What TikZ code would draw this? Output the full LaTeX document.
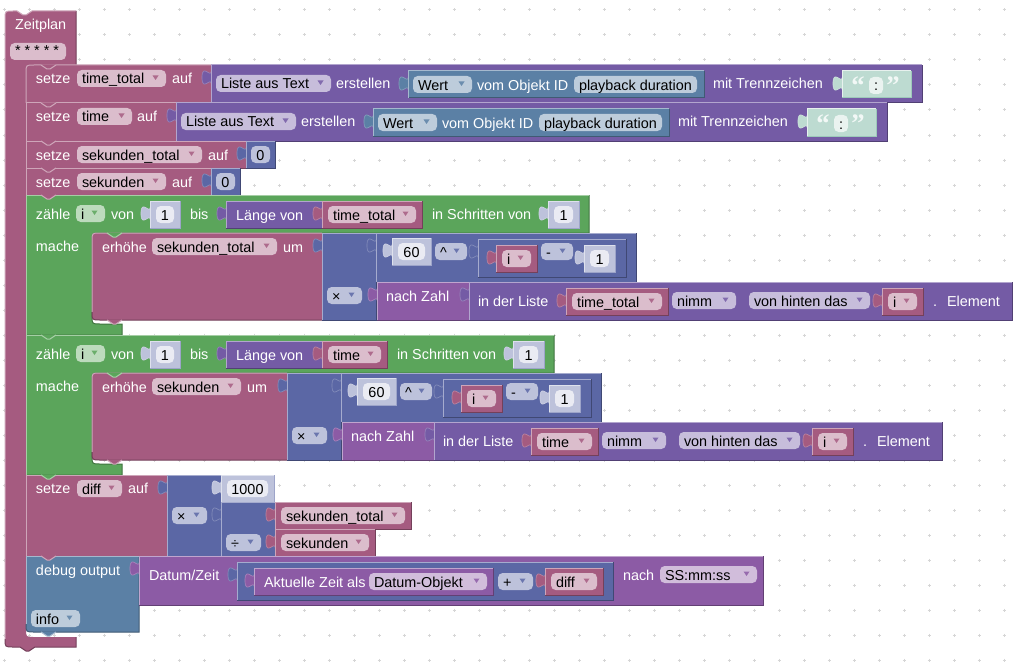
\documentclass[tikz,border=0pt]{standalone}
\usepackage{fontspec}
\setmainfont{Liberation Sans}
\newfontfamily\quotefont{Liberation Serif}[BoldFont={Liberation Serif Bold}]
\definecolor{vr}{HTML}{A55B80}
\definecolor{lst}{HTML}{745BA5}
\definecolor{mth}{HTML}{5B67A5}
\definecolor{grn}{HTML}{5BA55B}
\definecolor{sys}{HTML}{5B80A5}
\definecolor{dat}{HTML}{8C5BA5}
\definecolor{txt}{HTML}{5BA58C}
\definecolor{gridc}{HTML}{D6D6D6}
\tikzset{
  lab/.style={anchor=base west,inner sep=0pt,outer sep=0pt,text=white,font=\fontsize{10.8}{12}\selectfont},
  fldtxt/.style={anchor=base west,inner sep=0pt,outer sep=0pt,text=black,font=\fontsize{10.8}{12}\selectfont},
  midtxt/.style={anchor=base,inner sep=0pt,outer sep=0pt,text=black,font=\fontsize{10.8}{12}\selectfont},
  qmark/.style={anchor=base,inner sep=0pt,outer sep=0pt,text=white!92!txt,font=\quotefont\bfseries\fontsize{20}{20}\selectfont},
  fieldbox/.style={rounded corners=3.5}
}
% bevelled block
\newcommand{\blk}[5]{%
  \fill[#5] (#1,#2) rectangle (#3,#4);
  \draw[#5!70!black] (#1,#4)--(#3,#4)--(#3,#2);
  \draw[#5!55!white] (#1,#4)--(#1,#2)--(#3,#2);}
% puzzle tab on left edge, #2 = block top
\newcommand{\ptab}[3]{%
  \fill[#3,draw=#3!75!white,line width=.5pt] (#1+.5,#2+5) .. controls (#1+.5,#2+15) and (#1-9,#2-3) .. (#1-9,#2+12.5)
     .. controls (#1-9,#2+28) and (#1+.5,#2+10) .. (#1+.5,#2+20);}
% value block = tab + block
\newcommand{\vblk}[5]{\ptab{#1}{#2}{#5}\blk{#1}{#2}{#3}{#4}{#5}}
% dropdown field: x1,y1,x2,text,colour
\newcommand{\ddf}[5]{%
  \fill[#5!40!white,fieldbox] (#1,#2) rectangle (#3,#2+17);
  \node[fldtxt] at (#1+5,#2+14) {#4};
  \fill[#5!90!white] (#3-13.5,#2+5.5) -- (#3-7.5,#2+5.5) -- (#3-10.5,#2+10) -- cycle;}
% variable block
\newcommand{\varb}[4]{%
  \vblk{#1}{#2}{#3}{#2+27}{vr}
  \ddf{#1+6}{#2+5}{#3-6}{#4}{vr}}
% plain field with centred text: x1,y1,x2,text,fill
\newcommand{\cfld}[5]{%
  \fill[#5,fieldbox] (#1,#2) rectangle (#3,#2+17);
  \node[midtxt] at ({(#1+#3)/2},#2+14) {#4};}
% shadow number block
\newcommand{\shad}[4]{%
  \ptab{#1}{#2}{mth!40!white}
  \fill[mth!40!white] (#1,#2) rectangle (#3,#2+27);
  \draw[mth!20!white] (#1,#2+27)--(#1,#2)--(#3,#2);
  \draw[mth!60!white] (#1,#2+27)--(#3,#2+27)--(#3,#2);
  \cfld{#1+6}{#2+5}{#3-6}{#4}{mth!13!white}}
% real number block
\newcommand{\numb}[4]{%
  \vblk{#1}{#2}{#3}{#2+27}{mth}
  \cfld{#1+5}{#2+5}{#3-5}{#4}{mth!40!white}}
% next-statement connector
\newcommand{\conn}[3]{%
  \fill[#3] (#1+15,#2-.5) -- (#1+21,#2+4) -- (#1+24,#2+4) -- (#1+30,#2-.5) -- cycle;
  \draw[#3!55!white] (#1+15,#2) -- (#1+21,#2+4) -- (#1+24,#2+4) -- (#1+30,#2);}
% "Liste aus Text" row, drawn at first-row position
\newcommand{\listrow}{%
  \blk{211}{65}{922}{103}{lst}
  \ddf{216}{75}{331}{Liste aus Text}{lst}
  \node[lab] at (336,89) {erstellen};
  \vblk{408}{71}{704}{98}{sys}
  \ddf{413}{76}{472}{Wert}{sys}
  \node[lab] at (477,90) {vom Objekt ID};
  \fill[sys!40!white,fieldbox] (574,76) rectangle (697,93);
  \node[fldtxt] at (579,90) {playback duration};
  \node[lab] at (713,89) {mit Trennzeichen};
  \ptab{842}{71}{txt!40!white}
  \fill[txt!40!white] (842,71) rectangle (911,98);
  \draw[txt!15!white] (842,98)--(842,71)--(911,71);
  \draw[txt!60!white] (842,98)--(911,98)--(911,71);
  \node[qmark] at (858,94.5) {“};
  \node[qmark] at (893,94.5) {”};
  \cfld{869}{77}{883}{:}{txt!13!white}}
% math stack and "nach Zahl", drawn at loop-1 position
\newcommand{\mathstack}{%
  \vblk{322}{233}{376}{320}{mth}
  \vblk{376}{233}{636}{282}{mth}
  \shad{392}{238}{431}{60}
  \ddf{435}{243}{467}{\textasciicircum}{mth}
  \vblk{478}{239}{626}{277}{mth}
  \varb{496}{245}{537}{i}
  \ddf{541}{243}{573}{-}{mth}
  \shad{584}{245}{615}{1}
  \ddf{327}{287}{362}{×}{mth}
  \vblk{377}{282}{469}{320}{dat}
  \node[lab] at (386,301) {nach Zahl};}
% loop frame, drawn at loop-1 position; #1 right end
\newcommand{\loopframe}[1]{%
  \fill[grn] (26,195) -- (#1,195) -- (#1,233) -- (100,233) .. controls (92,233) .. (92,241)
    -- (92,316) .. controls (92,324) .. (100,324) -- (122,324) -- (122,335) -- (26,335) -- cycle;
  \draw[grn!70!black] (#1,195) -- (#1,233) -- (100,233) .. controls (92,233) .. (92,241)
    -- (92,316) .. controls (92,324) .. (100,324) -- (122,324) -- (122,335) -- (26,335);
  \draw[grn!55!white] (26,335) -- (26,195) -- (#1,195);
  \node[lab] at (36,219) {zähle};
  \ddf{76}{205}{105}{i}{grn}
  \node[lab] at (111,219) {von};
  \shad{150}{201}{180}{1}
  \node[lab] at (190,219) {bis};
  \vblk{226}{201}{322}{228}{lst}
  \node[lab] at (236,220) {Länge von};
  \node[lab] at (36,251) {mache};}
% statement body inside a loop; #1 right end
\newcommand{\innerstmt}[1]{%
  \fill[vr] (100,233) -- (#1,233) -- (#1,320) -- (100,320) .. controls (92,320) .. (92,312)
    -- (92,241) .. controls (92,233) .. (100,233) -- cycle;
  \draw[vr!55!white] (92,312) -- (92,241) .. controls (92,233) .. (100,233) -- (#1,233);
  \draw[vr!70!black] (92,312) .. controls (92,320) .. (100,320) -- (#1,320);
  \node[lab] at (102,252) {erhöhe};}
\begin{document}
\begin{tikzpicture}[x=0.75pt,y=-0.75pt,line width=0.75pt]
\useasboundingbox (0,0) rectangle (1025,667);
\fill[white] (0,0) rectangle (1025,667);
% workspace grid
\draw[gridc] \foreach \gx in {4,29,...,1025} {\foreach \gy in {10,35,...,660}
  {(\gx-1.5,\gy) -- (\gx+1.5,\gy) (\gx,\gy-1.5) -- (\gx,\gy+1.5)}};
% hat
\fill[vr] (5,19) .. controls (5,11) .. (13,11) -- (17,11) -- (23,15) -- (26,15) -- (32,11) -- (76,11)
  -- (76,65) -- (34,65) .. controls (26,65) .. (26,73) -- (26,629) .. controls (26,637) .. (34,637)
  -- (76,637) -- (76,647) -- (35,647) -- (29,651) -- (26,651) -- (20,647) -- (13,647)
  .. controls (5,647) .. (5,639) -- cycle;
\draw[vr!70!black] (76,11) -- (76,65) (76,637) -- (76,647) -- (35,647) -- (29,651) -- (26,651) -- (20,647) -- (13,647)
  .. controls (5,647) .. (5,639);
\draw[vr!55!white] (5,639) -- (5,19) .. controls (5,11) .. (13,11) -- (17,11) -- (23,15) -- (26,15) -- (32,11) -- (76,11);
\node[lab] at (15,30) {Zeitplan};
\fill[vr!40!white,fieldbox] (10,43) rectangle (66,60);
\node[fldtxt] at (15,56) {* * * * *};
% row 1
\fill[vr] (34,65) -- (211,65) -- (211,103) -- (26,103) -- (26,73) .. controls (26,65) .. (34,65) -- cycle;
\draw[vr!55!white] (26,103) -- (26,73) .. controls (26,65) .. (34,65) -- (211,65);
\draw[vr!70!black] (26,103) -- (211,103);
\node[lab] at (36,84) {setze};
\ddf{77}{70}{166}{time\_total}{vr}
\node[lab] at (172,84) {auf};
\ptab{211}{65}{lst}\listrow
% row 2
\blk{26}{103}{176}{141}{vr}
\node[lab] at (36,122) {setze};
\ddf{77}{108}{132}{time}{vr}
\node[lab] at (137,122) {auf};
\ptab{176}{103}{lst}
\begin{scope}[shift={(-35,38)}]\listrow\end{scope}
% row 3
\blk{26}{141}{246}{168}{vr}
\node[lab] at (36,160) {setze};
\ddf{77}{146}{202}{sekunden\_total}{vr}
\node[lab] at (208,160) {auf};
\numb{246}{141}{275}{0}
% row 4
\blk{26}{168}{211}{195}{vr}
\node[lab] at (36,187) {setze};
\ddf{77}{173}{166}{sekunden}{vr}
\node[lab] at (172,187) {auf};
\numb{211}{168}{240}{0}
% loop 1
\loopframe{589}
\varb{322}{201}{422}{time\_total}
\node[lab] at (432,219) {in Schritten von};
\shad{548}{201}{579}{1}
\innerstmt{322}
\ddf{152}{238}{277}{sekunden\_total}{vr}
\node[lab] at (283,252) {um};
\mathstack
\vblk{469}{282}{1012}{320}{lst}
\node[lab] at (478,306) {in der Liste};
\varb{566}{288}{668}{time\_total}
\ddf{672}{292}{736}{nimm}{lst}
\ddf{749}{292}{870}{von hinten das}{lst}
\varb{882}{288}{923}{i}
\node[lab] at (933,306) {.};
\node[lab] at (947,306) {Element};
% loop 2
\begin{scope}[shift={(0,140)}]
\loopframe{554}
\varb{322}{201}{387}{time}
\node[lab] at (397,219) {in Schritten von};
\shad{513}{201}{544}{1}
\innerstmt{287}
\ddf{152}{238}{241}{sekunden}{vr}
\node[lab] at (247,252) {um};
\end{scope}
\begin{scope}[shift={(-35,140)}]
\mathstack
\vblk{469}{282}{977}{320}{lst}
\node[lab] at (478,306) {in der Liste};
\varb{566}{288}{633}{time}
\ddf{637}{292}{701}{nimm}{lst}
\ddf{714}{292}{835}{von hinten das}{lst}
\varb{847}{288}{888}{i}
\node[lab] at (898,306) {.};
\node[lab] at (912,306) {Element};
\end{scope}
% diff
\blk{26}{475}{167}{556}{vr}
\node[lab] at (36,493) {setze};
\ddf{77}{480}{122}{diff}{vr}
\node[lab] at (128,493) {auf};
\vblk{167}{475}{221}{556}{mth}
\ddf{172}{507}{207}{×}{mth}
\shad{221}{475}{274}{1000}
\vblk{221}{502}{275}{556}{mth}
\ddf{226}{534}{261}{÷}{mth}
\varb{275}{502}{411}{sekunden\_total}
\varb{275}{529}{375}{sekunden}
% debug output
\fill[sys] (26,556) -- (139,556) -- (139,632) -- (34,632) .. controls (26,632) .. (26,624) -- cycle;
\draw[sys!70!black] (139,556) -- (139,632) -- (34,632) .. controls (26,632) .. (26,624);
\draw[sys!55!white] (26,624) -- (26,556) -- (139,556);
\node[lab] at (36,575) {debug output};
\ddf{31}{610}{80}{info}{sys}
\vblk{139}{556}{763}{605}{dat}
\node[lab] at (149,580) {Datum/Zeit};
\vblk{237}{562}{613}{600}{mth}
\vblk{254}{568}{493}{595}{dat}
\node[lab] at (264,587) {Aktuelle Zeit als};
\ddf{369}{573}{487}{Datum-Objekt}{dat}
\ddf{498}{573}{533}{+}{mth}
\varb{545}{568}{603}{diff}
\node[lab] at (623,580) {nach};
\ddf{660}{566}{757}{SS:mm:ss}{dat}
% statement connectors
\conn{26}{103}{vr}
\conn{26}{141}{vr}
\conn{26}{168}{vr}
\conn{26}{195}{vr}
\conn{26}{335}{grn}
\conn{26}{475}{grn}
\conn{26}{556}{vr}
\conn{26}{632}{sys}
\conn{92}{320}{vr}
\conn{92}{460}{vr}
\conn{92}{233}{grn}
\conn{92}{373}{grn}
\conn{26}{65}{vr}
\end{tikzpicture}
\end{document}
